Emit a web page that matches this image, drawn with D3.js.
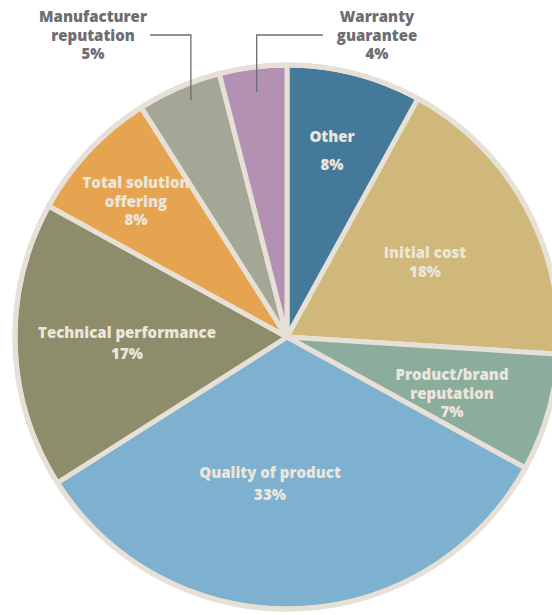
<!DOCTYPE html>
<html>
<head>
<meta charset="utf-8">
<script src="https://cdn.jsdelivr.net/npm/d3@7"></script>
<style>
  html, body { margin: 0; padding: 0; background: #ffffff; }
  svg { display: block; }
  text { font-family: "Open Sans", "Noto Sans", sans-serif; font-weight: 800; }
</style>
</head>
<body>
<svg id="chart" width="552" height="615"></svg>
<script>
// Purchase decision factors, clockwise from 12 o'clock
const categories = [
  ["Other"],
  ["Initial cost"],
  ["Product/brand", "reputation"],
  ["Quality of product"],
  ["Technical performance"],
  ["Total solution", "offering"],
  ["Manufacturer", "reputation"],
  ["Warranty", "guarantee"]
];
const shares = [8, 18, 7, 33, 17, 8, 5, 4];
const colors = ["#44799a", "#cfb879", "#8cad9e", "#7eb0cf", "#8e8d6b", "#e7a450", "#a4a696", "#b491b2"];

// Label placement: first-line position and line spacing
const labelLayout = [
  { x: 332, y: 137, lh: 28, inside: true },
  { x: 425, y: 253, lh: 19, inside: true },
  { x: 452, y: 375, lh: 18.5, inside: true },
  { x: 270, y: 473, lh: 22, inside: true },
  { x: 127, y: 333, lh: 21, inside: true },
  { x: 136, y: 183, lh: 18.5, inside: true },
  { x: 93, y: 17, lh: 18.5, inside: false },
  { x: 377, y: 17, lh: 18.5, inside: false }
];

const cx = 287, cy = 337, R = 272;
const border = "#e6e0d6";
const leaderColor = "#6d6e71";

const svg = d3.select("#chart");
const g = svg.append("g").attr("transform", `translate(${cx},${cy})`);

const pie = d3.pie().sort(null).value(d => d);
const arcs = pie(shares);
const arc = d3.arc().innerRadius(0).outerRadius(R);

// outer rim backing
g.append("circle").attr("r", R + 1).attr("fill", border);

g.selectAll("path.slice")
  .data(arcs)
  .join("path")
  .attr("class", "slice")
  .attr("d", arc)
  .attr("fill", (d, i) => colors[i])
  .attr("stroke", border)
  .attr("stroke-width", 5)
  .attr("stroke-linejoin", "round");

// rim ring drawn over the slice edges
g.append("circle").attr("r", R).attr("fill", "none")
  .attr("stroke", border).attr("stroke-width", 5);

// leader lines for the two small slices, anchored inside each slice
function sliceX(d, frac) {
  const a = d.startAngle + (d.endAngle - d.startAngle) * frac;
  return cx + (R - 30) * Math.sin(a);
}
const mx = sliceX(arcs[6], 0.5);
svg.append("path")
  .attr("d", `M${mx},100 V35 H150`)
  .attr("fill", "none").attr("stroke", leaderColor).attr("stroke-width", 1.3);
const wx = sliceX(arcs[7], 0.5);
svg.append("path")
  .attr("d", `M${wx},92 V35 H323`)
  .attr("fill", "none").attr("stroke", leaderColor).attr("stroke-width", 1.3);

// labels
arcs.forEach((d, i) => {
  const L = labelLayout[i];
  const lines = categories[i].concat([shares[i] + "%"]);
  const t = svg.append("text")
    .attr("text-anchor", "middle")
    .attr("fill", L.inside ? "#ebe5da" : leaderColor)
    .attr("font-size", 15);
  lines.forEach((s, k) => {
    t.append("tspan")
      .attr("x", L.x)
      .attr("y", L.y + k * L.lh)
      .attr("dy", "0.35em")
      .text(s);
  });
});
</script>
</body>
</html>
